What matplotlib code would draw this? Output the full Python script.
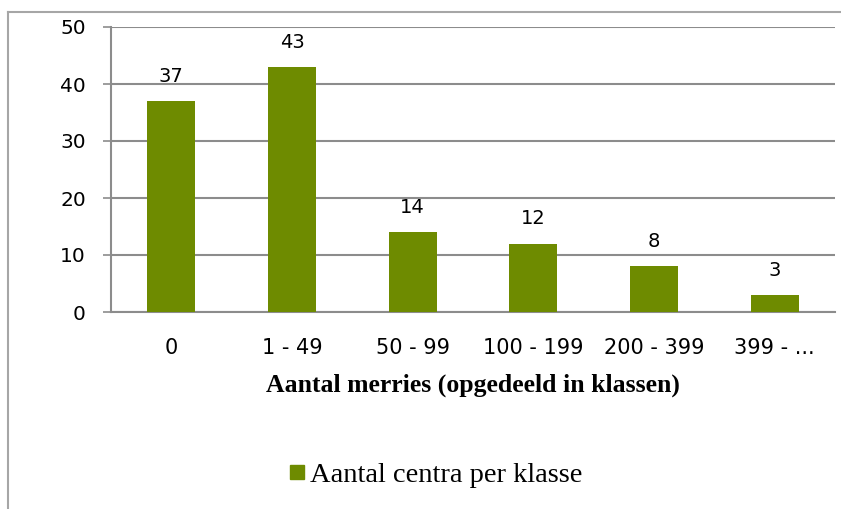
import matplotlib
matplotlib.use("Agg")
import matplotlib.pyplot as plt
from matplotlib.lines import Line2D

# data
klassen = ["0", "1 - 49", "50 - 99", "100 - 199", "200 - 399", "399 - ..."]
aantal_centra = [37, 43, 14, 12, 8, 3]
y_ticks = [0, 10, 20, 30, 40, 50]

bar_color = "#6E8B00"
grid_color = "#8C8C8C"

plt.rcParams["font.family"] = ["DejaVu Sans"]

fig = plt.figure(figsize=(8.41, 5.09), dpi=100, facecolor="white")
ax = fig.add_axes([111 / 841, 1 - 312 / 509, (835 - 111) / 841, (312 - 27) / 509])

x = range(len(klassen))
ax.bar(x, aantal_centra, width=0.4, color=bar_color, zorder=3)
for xi, v in zip(x, aantal_centra):
    ax.annotate(str(v), (xi, v), xytext=(0, 11), textcoords="offset points",
                ha="center", va="bottom", fontsize=14)

ax.set_xlim(-0.5, len(klassen) - 0.5)
ax.set_ylim(0, 50)
ax.set_yticks(y_ticks)
ax.set_xticks(list(x))
ax.set_xticklabels(klassen)
ax.yaxis.grid(True, color=grid_color, linewidth=1.5, zorder=0)
ax.tick_params(axis="y", length=6, width=1.2, color=grid_color, labelsize=14.5, pad=12)
ax.tick_params(axis="x", length=0, labelsize=15, pad=19)
for s in ["top", "right"]:
    ax.spines[s].set_visible(False)
ax.spines["left"].set_color(grid_color)
ax.spines["left"].set_linewidth(1.5)
ax.spines["bottom"].set_color(grid_color)
ax.spines["bottom"].set_linewidth(1.5)

ax.set_xlabel("Aantal merries (opgedeeld in klassen)", fontsize=18.5,
              family="Liberation Serif", fontweight="bold", labelpad=11)

# legend
handle = Line2D([], [], marker="s", linestyle="none", markersize=10,
                color=bar_color)
fig.legend([handle], ["Aantal centra per klasse"], loc="center",
           bbox_to_anchor=(431.5 / 841, 1 - 475 / 509),
           frameon=False, handletextpad=-0.15, handlelength=1.2, borderpad=0,
           prop={"family": "Liberation Serif", "size": 20.5})

# outer chart frame (left and top edges visible)
fig.add_artist(Line2D([8 / 841, 8 / 841], [0, 1 - 12 / 509],
                      color="#A6A6A6", linewidth=1.5, transform=fig.transFigure))
fig.add_artist(Line2D([8 / 841, 1], [1 - 12 / 509, 1 - 12 / 509],
                      color="#A6A6A6", linewidth=1.5, transform=fig.transFigure))

plt.savefig("out.png", dpi=100, facecolor="white")
